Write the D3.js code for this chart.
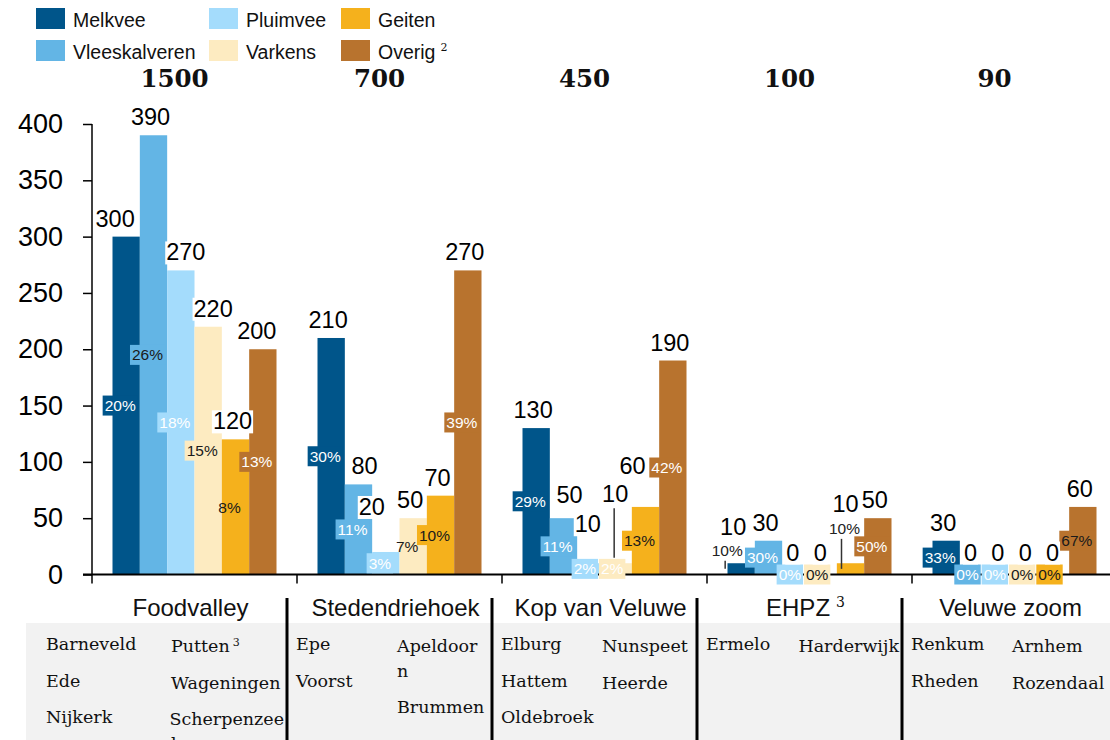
<!DOCTYPE html>
<html>
<head>
<meta charset="utf-8">
<script src="https://cdn.jsdelivr.net/npm/d3@7"></script>
<style>
  body { margin: 0; background: #fff; }
  svg { display: block; font-family: "Liberation Sans", Arial, sans-serif; }
</style>
</head>
<body>
<div id="chart"></div>
<script>
// ---- data ----
const groups = ["Foodvalley", "Stedendriehoek", "Kop van Veluwe", "EHPZ", "Veluwe zoom"];
const groupSup = ["", "", "", "3", ""];
const totals = [1500, 700, 450, 100, 90];

const series = ["Melkvee", "Vleeskalveren", "Pluimvee", "Varkens", "Geiten", "Overig"];
const seriesSup = ["", "", "", "", "", "2"];
const colors = ["#00558a", "#63b5e5", "#a4dcfc", "#fdebc1", "#f5b11c", "#b8732e"];

const melkvee       = [300, 210, 130, 10, 30];
const vleeskalveren = [390,  80,  50, 30,  0];
const pluimvee      = [270,  20,  10,  0,  0];
const varkens       = [220,  50,  10,  0,  0];
const geiten        = [120,  70,  60, 10,  0];
const overig        = [200, 270, 190, 50, 60];

const pctMelkvee       = [20, 30, 29, 10, 33];
const pctVleeskalveren = [26, 11, 11, 30,  0];
const pctPluimvee      = [18,  3,  2,  0,  0];
const pctVarkens       = [15,  7,  2,  0,  0];
const pctGeiten        = [ 8, 10, 13, 10,  0];
const pctOverig        = [13, 39, 42, 50, 67];

const yTicks = [0, 50, 100, 150, 200, 250, 300, 350, 400];

// municipalities per region (col 1, col 2); "|" marks a wrapped line
const townsCol1 = [
  ["Barneveld", "Ede", "Nijkerk"],
  ["Epe", "Voorst"],
  ["Elburg", "Hattem", "Oldebroek"],
  ["Ermelo"],
  ["Renkum", "Rheden"]
];
const townsCol2 = [
  ["Putten^3", "Wageningen", "Scherpenzee|l"],
  ["Apeldoor|n", "Brummen"],
  ["Nunspeet", "Heerde"],
  ["Harderwijk"],
  ["Arnhem", "Rozendaal"]
];

const values = [melkvee, vleeskalveren, pluimvee, varkens, geiten, overig];
const pcts = [pctMelkvee, pctVleeskalveren, pctPluimvee, pctVarkens, pctGeiten, pctOverig];

const rows = [];
groups.forEach((g, gi) => {
  series.forEach((s, si) => {
    rows.push({ group: g, series: s, gi, si, value: values[si][gi], pct: pcts[si][gi] });
  });
});

// ---- label placement tweaks (manual nudges like the original) ----
const valueNudge = {
  "Foodvalley|Melkvee": { dx: -8 },
  "Foodvalley|Pluimvee": { dx: 8 },
  "Foodvalley|Varkens": { dx: 8 },
  "Foodvalley|Overig": { dx: -3 },
  "Stedendriehoek|Vleeskalveren": { dx: 9 },
  "Stedendriehoek|Pluimvee": { dx: -11, lift: 27 },
  "Kop van Veluwe|Vleeskalveren": { dx: 9, lift: 5 },
  "Kop van Veluwe|Pluimvee": { lift: 21 },
  "Kop van Veluwe|Varkens": { lift: 51, leader: true },
  "Kop van Veluwe|Geiten": { dx: -10, lift: 23 },
  "EHPZ|Melkvee": { dx: -5, lift: 18 },
  "EHPZ|Geiten": { dx: -2, lift: 41 }
};
const pctCallout = {
  "EHPZ|Melkvee": { dx: -14, lineDx: -16, lift: 13 },
  "EHPZ|Geiten": { dx: -6, lineDx: -9, lift: 35 }
};
const pctNoBox = new Set(["Foodvalley|Geiten", "Stedendriehoek|Varkens"]);
const darkSeries = new Set(["Varkens", "Geiten"]);
const pctDarkOverride = { "Foodvalley|Vleeskalveren": true, "Veluwe zoom|Overig": true, "Kop van Veluwe|Varkens": false };

// ---- scales ----
const width = 1110, height = 740;
const svg = d3.select("#chart").append("svg")
  .attr("width", width)
  .attr("height", height);

const step = 205;
const x0 = d3.scaleBand().domain(groups).range([92, 92 + step * groups.length]);
const x1 = d3.scaleBand().domain(series).range([20.5, 184.5]);
const y = d3.scaleLinear().domain([0, 400]).range([574.5, 124]);
const color = d3.scaleOrdinal().domain(series).range(colors);

const barX = d => x0(d.group) + x1(d.series);
const barC = d => barX(d) + x1.bandwidth() / 2;
const barMid = d => (y(d.value) + y(0)) / 2;
const key = d => d.group + "|" + d.series;

// ---- legend ----
const legendCols = [36, 209, 341];
const legend = svg.append("g");
series.forEach((s, i) => {
  const lx = legendCols[Math.floor(i / 2)];
  const ly = 8 + (i % 2) * 32;
  legend.append("rect")
    .attr("x", lx).attr("y", ly)
    .attr("width", 29).attr("height", 21)
    .attr("fill", color(s));
  const t = legend.append("text")
    .attr("x", lx + 37).attr("y", ly + 19)
    .style("font-size", "19.5px")
    .attr("fill", "#111")
    .text(s);
  if (seriesSup[i]) {
    t.append("tspan").attr("dx", 5).attr("dy", -8)
      .style("font-size", "11px")
      .style("font-family", "'DejaVu Serif', serif")
      .text(seriesSup[i]);
  }
});

// ---- totals above groups ----
svg.selectAll(".total")
  .data(groups)
  .enter()
  .append("text")
  .attr("class", "total")
  .attr("x", g => x0(g) + x0.bandwidth() / 2 - 20)
  .attr("y", 87)
  .attr("text-anchor", "middle")
  .style("font-family", "'DejaVu Serif', Georgia, serif")
  .style("font-weight", "bold")
  .style("font-size", "24.5px")
  .attr("fill", "#111")
  .text((g, i) => totals[i]);

// ---- bars ----
svg.append("g").selectAll("rect")
  .data(rows)
  .enter()
  .append("rect")
  .attr("x", barX)
  .attr("y", d => y(d.value))
  .attr("width", x1.bandwidth())
  .attr("height", d => y(0) - y(d.value))
  .attr("fill", d => color(d.series));

// ---- axes ----
const yAxis = svg.append("g")
  .attr("transform", "translate(92,0)")
  .call(d3.axisLeft(y).tickValues(yTicks).tickSize(9).tickPadding(20).tickSizeOuter(0));
yAxis.select(".domain").remove();
yAxis.selectAll(".tick line").attr("stroke", "#000").attr("stroke-width", 1.5);
yAxis.selectAll(".tick text")
  .style("font-size", "27px")
  .style("font-family", "'Liberation Sans', Arial, sans-serif")
  .attr("fill", "#000");

svg.append("line")
  .attr("x1", 92).attr("x2", 92)
  .attr("y1", y(400)).attr("y2", y(0) + 9)
  .attr("stroke", "#000").attr("stroke-width", 1.5);

svg.append("line")
  .attr("x1", 83).attr("x2", width)
  .attr("y1", y(0)).attr("y2", y(0))
  .attr("stroke", "#000").attr("stroke-width", 2);

svg.append("g").selectAll("line")
  .data(groups.slice(1))
  .enter()
  .append("line")
  .attr("x1", g => x0(g)).attr("x2", g => x0(g))
  .attr("y1", y(0)).attr("y2", y(0) + 9)
  .attr("stroke", "#000").attr("stroke-width", 1.5);

// ---- percent labels ----
const pctLayer = svg.append("g").style("font-size", "15.5px");
rows.forEach(d => {
  const k = key(d);
  const call = pctCallout[k];
  if (call) {
    const base = barMid(d) - call.lift;
    pctLayer.append("text")
      .attr("x", barC(d) + call.dx).attr("y", base)
      .attr("text-anchor", "middle")
      .attr("fill", "#222")
      .text(d.pct + "%");
    pctLayer.append("line")
      .attr("x1", barC(d) + call.lineDx).attr("x2", barC(d) + call.lineDx)
      .attr("y1", base + 5).attr("y2", barMid(d))
      .attr("stroke", "#333").attr("stroke-width", 1.5);
    return;
  }
  const dark = k in pctDarkOverride ? pctDarkOverride[k] : darkSeries.has(d.series);
  const g = pctLayer.append("g");
  const t = g.append("text")
    .attr("x", barC(d) - 6).attr("y", barMid(d))
    .attr("dy", "0.36em")
    .attr("text-anchor", "middle")
    .attr("fill", dark ? "#1a1a1a" : "#fff")
    .text(d.pct + "%");
  if (!pctNoBox.has(k)) {
    const w = t.node().getComputedTextLength() + 4;
    g.insert("rect", "text")
      .attr("x", barC(d) - 6 - w / 2).attr("y", barMid(d) - 10)
      .attr("width", w).attr("height", 20)
      .attr("fill", color(d.series));
  }
});

// ---- value labels ----
const valLayer = svg.append("g").style("font-size", "23.5px");
rows.forEach(d => {
  const n = valueNudge[key(d)] || {};
  const cx = barC(d) - 3 + (n.dx || 0);
  const base = Math.min(y(d.value) - 10, barMid(d) - 14) - (n.lift || 0);
  const g = valLayer.append("g");
  const t = g.append("text")
    .attr("x", cx).attr("y", base)
    .attr("text-anchor", "middle")
    .attr("fill", "#000")
    .text(d.value);
  const bb = t.node().getBBox();
  g.insert("rect", "text")
    .attr("x", bb.x - 1).attr("y", bb.y + 2)
    .attr("width", bb.width + 2).attr("height", bb.height - 3)
    .attr("fill", "#fff");
  if (n.leader) {
    valLayer.append("line")
      .attr("x1", barC(d) - 4).attr("x2", barC(d) - 4)
      .attr("y1", base + 6).attr("y2", barMid(d) - 11)
      .attr("stroke", "#333").attr("stroke-width", 1.5);
  }
});

// ---- region names ----
groups.forEach((g, gi) => {
  const t = svg.append("text")
    .attr("x", x0(g) + x0.bandwidth() / 2 - 4)
    .attr("y", 616)
    .attr("text-anchor", "middle")
    .style("font-size", "24px")
    .attr("fill", "#111")
    .text(g);
  if (groupSup[gi]) {
    t.append("tspan").attr("dx", 6).attr("dy", -9)
      .style("font-size", "14px")
      .style("font-family", "'DejaVu Serif', serif")
      .text(groupSup[gi]);
  }
});

// ---- municipality table ----
svg.append("rect")
  .attr("x", 26).attr("y", 623)
  .attr("width", width - 26).attr("height", height - 623)
  .attr("fill", "#f2f2f2");

const seps = groups.slice(1).map(g => x0(g) - 10);
const cellLeft = [26].concat(seps);
const cellRight = seps.concat([width]);

seps.forEach(sx => {
  svg.append("line")
    .attr("x1", sx).attr("x2", sx)
    .attr("y1", 598).attr("y2", height)
    .attr("stroke", "#000").attr("stroke-width", 3);
});

const townLayer = svg.append("g")
  .style("font-family", "'DejaVu Serif', Georgia, serif")
  .style("font-size", "17.5px")
  .attr("fill", "#111");

function drawTown(label, x, yBase) {
  const [main, sup] = label.split("^");
  const t = townLayer.append("text").attr("x", x).attr("y", yBase).text(main);
  if (sup) {
    t.append("tspan").attr("dx", 3).attr("dy", -6).style("font-size", "11px").text(sup);
  }
  return t;
}

function drawColumn(list, x, startY, clampRight) {
  let yy = startY;
  list.forEach(entry => {
    const lines = entry.split("|");
    lines.forEach((ln, li) => {
      const t = drawTown(ln, x, yy);
      if (clampRight) {
        const w = t.node().getComputedTextLength();
        if (x + w > clampRight) t.attr("x", clampRight - w);
      }
      if (li < lines.length - 1) yy += 24.5;
    });
    yy += 36.5;
  });
}

groups.forEach((g, gi) => {
  const c1 = gi === 0 ? 46 : cellLeft[gi] + 9;
  const c2 = c1 + (gi === 0 ? 125 : 101);
  drawColumn(townsCol1[gi], c1, 650, null);
  drawColumn(townsCol2[gi], c2, 652, cellRight[gi] - 3);
});
</script>
</body>
</html>
